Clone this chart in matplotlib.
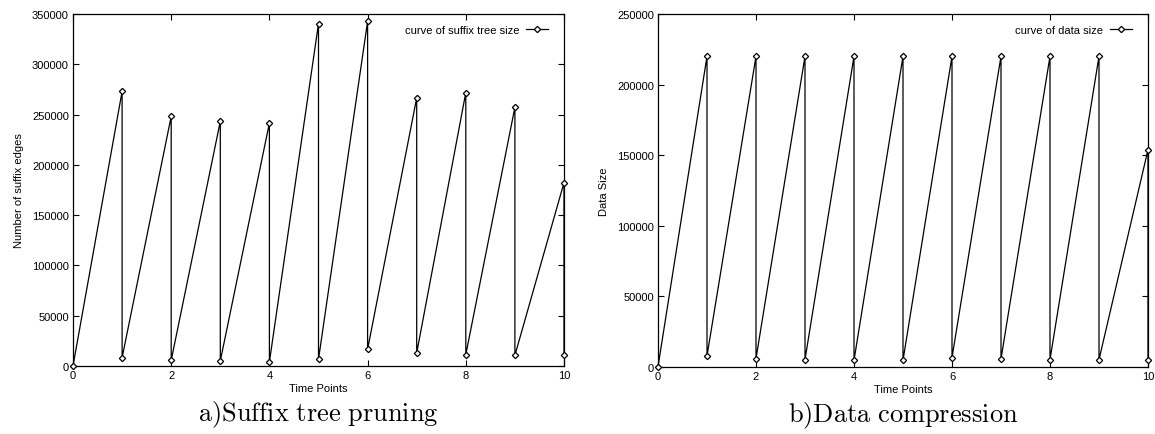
import matplotlib
matplotlib.use("Agg")
import matplotlib.pyplot as plt
from matplotlib.ticker import MultipleLocator

plt.rcParams['font.family'] = ['Liberation Sans', 'DejaVu Sans']
plt.rcParams['mathtext.fontset'] = 'cm'

# Time points: each point is sampled before and after the pruning / compression step
time_points = [0, 1, 1, 2, 2, 3, 3, 4, 4, 5, 5, 6, 6, 7, 7, 8, 8, 9, 9, 10, 10]

suffix_edges = [0, 273000, 8300, 248200, 5700, 243300, 5000, 241600, 4000,
                340400, 6600, 342700, 16600, 266500, 12900, 271800, 11300,
                257200, 10600, 182300, 10600]

data_size = [0, 220000, 7600, 220000, 5700, 220000, 5000, 220000, 4500,
             220000, 4500, 220000, 6400, 220000, 5500, 220000, 5000,
             220000, 5000, 153800, 5000]

x_ticks = [0, 2, 4, 6, 8, 10]

fig = plt.figure(figsize=(11.55, 4.35), dpi=100)
ax1 = fig.add_axes([73 / 1155, 1 - 367 / 435, 491 / 1155, 352 / 435])
ax2 = fig.add_axes([658 / 1155, 1 - 367.7 / 435, 490 / 1155, 352.7 / 435])


def style(ax, ymax, ystep, ylabel, series, label, caption):
    ax.plot(time_points, series, color='black', lw=0.9, marker='D',
            markersize=3.2, markerfacecolor='white', markeredgecolor='black',
            markeredgewidth=0.9, label=label, clip_on=False, zorder=3)
    ax.set_xlim(0, 10)
    ax.set_ylim(0, ymax)
    ax.set_xticks(x_ticks)
    ax.yaxis.set_major_locator(MultipleLocator(ystep))
    ax.tick_params(direction='in', top=True, right=True, length=4, width=0.8,
                   labelsize=8, pad=3)
    ax.set_xlabel('Time Points', fontsize=8, labelpad=2)
    ax.set_ylabel(ylabel, fontsize=8, labelpad=6)
    for s in ax.spines.values():
        s.set_linewidth(0.9)
    ax.legend(loc='upper right', frameon=False, markerfirst=False,
              fontsize=8, handlelength=2.0, handletextpad=0.6,
              borderaxespad=0.6, bbox_to_anchor=(0.99, 1.0))
    ax.text(0.5, -0.092, caption, transform=ax.transAxes, ha='center',
            va='top', fontsize=19)


style(ax1, 350000, 50000, 'Number of suffix edges', suffix_edges,
      'curve of suffix tree size', r'$\mathrm{a)Suffix\ tree\ pruning}$')
style(ax2, 250000, 50000, 'Data Size', data_size,
      'curve of data size', r'$\mathrm{b)Data\ compression}$')

fig.savefig('out.png', dpi=100)
